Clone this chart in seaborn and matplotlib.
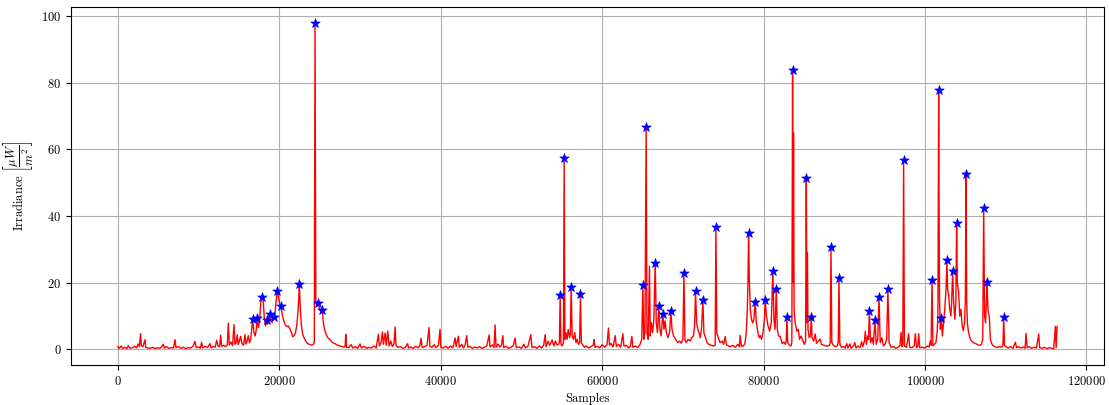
import matplotlib
matplotlib.use("Agg")
import matplotlib.pyplot as plt
import seaborn as sns
import pandas as pd

# Irradiance trace: sample index and value (uW/m^2)
samples = [
    0, 150, 400, 600, 900, 1100, 1300, 1500, 1800, 2100,
    2300, 2500, 2650, 2810, 2900, 3100, 3350, 3450, 3700, 4000,
    4300, 4600, 4900, 5200, 5450, 5620, 5750, 6000, 6300, 6600,
    6900, 7070, 7200, 7500, 7800, 8100, 8400, 8700, 9000, 9300,
    9550, 9700, 10000, 10200, 10370, 10500, 10800, 11100, 11400, 11550,
    11800, 12050, 12230, 12400, 12600, 12730, 12850, 13100, 13350, 13550,
    13680, 13800, 14000, 14200, 14380, 14500, 14650, 14790, 14900, 15050,
    15210, 15350, 15550, 15740, 15850, 16000, 16150, 16300, 16450, 16550,
    16700, 16850, 17000, 17150, 17270, 17400, 17550, 17700, 17850, 18000,
    18150, 18300, 18430, 18550, 18700, 18840, 18950, 19100, 19200, 19340,
    19450, 19600, 19750, 19900, 20050, 20210, 20350, 20500, 20700, 20900,
    21100, 21300, 21500, 21650, 21800, 22000, 22150, 22300, 22400, 22480,
    22560, 22700, 22850, 23000, 23200, 23400, 23600, 23800, 24000, 24200,
    24330, 24420, 24520, 24650, 24800, 24950, 25100, 25200, 25330, 25450,
    25600, 25800, 26000, 26300, 26600, 26900, 27200, 27500, 27800, 28000,
    28150, 28230, 28320, 28600, 28900, 29100, 29400, 29700, 30000, 30150,
    30500, 30800, 31100, 31400, 31700, 32000, 32270, 32400, 32600, 32770,
    32900, 33100, 33250, 33430, 33600, 33800, 34000, 34200, 34340, 34450,
    34700, 35000, 35300, 35600, 35900, 36000, 36300, 36600, 36900, 37200,
    37400, 37560, 37700, 38000, 38300, 38550, 38650, 38900, 39200, 39400,
    39700, 39910, 40000, 40300, 40600, 40900, 41200, 41500, 41780, 41900,
    42190, 42300, 42600, 42800, 43000, 43220, 43350, 43600, 43900, 44200,
    44500, 44800, 45100, 45400, 45700, 45990, 46100, 46400, 46600, 46730,
    46850, 47100, 47300, 47500, 47690, 47800, 48100, 48400, 48700, 49000,
    49210, 49350, 49700, 50000, 50300, 50500, 50800, 51160, 51300, 51600,
    51900, 52200, 52500, 52750, 52930, 53050, 53300, 53500, 53800, 54000,
    54200, 54400, 54600, 54700, 54790, 54900, 55050, 55200, 55290, 55380,
    55500, 55650, 55800, 55950, 56050, 56160, 56280, 56450, 56600, 56750,
    56900, 57050, 57200, 57310, 57420, 57600, 57800, 58000, 58300, 58600,
    58900, 59000, 59100, 59400, 59700, 60000, 60300, 60600, 60780, 60900,
    61100, 61350, 61610, 61750, 62000, 62300, 62560, 62700, 63000, 63300,
    63500, 63680, 63800, 64100, 64400, 64700, 64900, 65040, 65150, 65300,
    65450, 65550, 65700, 65860, 65950, 66100, 66250, 66400, 66570, 66700,
    66850, 67020, 67150, 67300, 67400, 67520, 67650, 67800, 67950, 68150,
    68350, 68510, 68650, 68850, 69100, 69350, 69600, 69800, 70000, 70130,
    70250, 70400, 70650, 70900, 71100, 71300, 71450, 71570, 71700, 71850,
    72000, 72150, 72300, 72480, 72600, 72800, 73000, 73200, 73500, 73800,
    74000, 74090, 74200, 74400, 74600, 74850, 75050, 75240, 75400, 75650,
    75900, 76200, 76500, 76800, 77000, 77100, 77250, 77500, 77700, 77850,
    77980, 78060, 78140, 78220, 78350, 78500, 78650, 78800, 78960, 79100,
    79300, 79450, 79580, 79750, 79950, 80100, 80200, 80350, 80550, 80750,
    80950, 81150, 81280, 81420, 81570, 81700, 81850, 82060, 82300, 82500,
    82700, 82800, 82890, 82990, 83200, 83400, 83500, 83590, 83650, 83710,
    83780, 83900, 84130, 84300, 84450, 84650, 84850, 85050, 85200, 85290,
    85370, 85430, 85500, 85650, 85800, 85910, 86000, 86200, 86400, 86550,
    86800, 87000, 87150, 87450, 87700, 87950, 88150, 88250, 88350, 88450,
    88650, 88900, 89100, 89250, 89340, 89450, 89650, 89900, 90100, 90300,
    90450, 90700, 90850, 91100, 91300, 91450, 91700, 91950, 92150, 92300,
    92500, 92600, 92750, 92900, 93000, 93100, 93250, 93450, 93600, 93800,
    93950, 94150, 94300, 94450, 94650, 94850, 95050, 95250, 95400, 95550,
    95800, 96100, 96400, 96700, 96900, 97030, 97150, 97250, 97350, 97450,
    97700, 97970, 98100, 98400, 98650, 98800, 98950, 99100, 99210, 99350,
    99700, 100000, 100300, 100500, 100650, 100750, 100870, 100980, 101150, 101350,
    101500, 101600, 101690, 101740, 101800, 101900, 102020, 102150, 102300, 102450,
    102600, 102720, 102800, 102930, 103050, 103200, 103300, 103420, 103550, 103700,
    103820, 103920, 104000, 104170, 104300, 104450, 104600, 104750, 104900, 105000,
    105080, 105160, 105250, 105400, 105550, 105750, 106000, 106200, 106440, 106650,
    106850, 107000, 107150, 107270, 107380, 107500, 107600, 107680, 107800, 107970,
    108100, 108300, 108500, 108700, 108950, 109200, 109450, 109650, 109750, 109850,
    110000, 110300, 110600, 110900, 111190, 111350, 111600, 111900, 112200, 112400,
    112520, 112650, 112900, 113200, 113500, 113800, 114090, 114200, 114500, 114800,
    115100, 115400, 115700, 115950, 116150, 116250, 116360,
]

irradiance = [
    0.8, 0.2, 1.0, 0.3, 0.6, 0.2, 1.1, 0.3, 0.5, 0.9,
    0.4, 1.6, 0.8, 4.7, 1.0, 0.8, 2.9, 0.6, 0.4, 0.3,
    0.6, 0.2, 0.5, 0.3, 0.9, 1.5, 0.4, 0.8, 0.3, 0.5,
    0.4, 2.9, 0.5, 0.8, 0.3, 0.6, 0.2, 0.5, 0.4, 0.9,
    2.4, 0.5, 0.7, 0.3, 2.1, 0.4, 0.9, 0.5, 1.7, 0.4,
    0.9, 0.6, 2.7, 1.0, 0.8, 4.2, 0.9, 1.2, 0.8, 1.4,
    7.9, 1.3, 2.2, 1.1, 7.4, 1.5, 2.0, 4.4, 1.4, 2.5,
    3.9, 1.8, 1.2, 4.4, 1.6, 2.4, 4.1, 2.0, 3.0, 5.5,
    9.0, 5.0, 4.0, 6.0, 9.5, 6.5, 8.5, 14.0, 15.6, 14.5,
    9.0, 7.0, 8.8, 7.5, 9.0, 10.7, 8.5, 8.0, 9.0, 9.7,
    10.5, 14.5, 17.5, 15.5, 13.5, 12.9, 10.5, 9.0, 7.5, 6.8,
    7.0, 6.2, 5.0, 3.8, 4.0, 5.0, 7.0, 11.0, 15.0, 19.7,
    14.0, 8.0, 5.0, 3.8, 2.8, 2.0, 1.6, 1.4, 1.3, 1.5,
    2.0, 97.9, 14.0, 13.0, 13.9, 12.5, 11.5, 12.0, 11.9, 8.0,
    6.0, 4.5, 3.5, 2.8, 2.0, 1.7, 1.2, 1.0, 0.8, 0.6,
    0.9, 4.5, 0.6, 0.5, 1.4, 0.4, 0.8, 0.3, 1.6, 0.4,
    0.9, 0.3, 0.6, 0.4, 1.0, 0.4, 4.5, 1.0, 2.0, 5.2,
    1.5, 4.9, 1.2, 5.5, 1.0, 2.5, 0.8, 1.6, 6.7, 1.2,
    0.6, 0.8, 0.3, 0.6, 1.7, 0.4, 0.7, 0.3, 0.9, 0.5,
    1.0, 3.3, 0.5, 0.8, 1.2, 6.5, 0.8, 0.6, 1.4, 0.5,
    1.2, 6.0, 0.6, 0.4, 0.9, 0.3, 1.0, 0.4, 3.4, 0.8,
    3.9, 0.6, 1.5, 0.4, 1.2, 4.1, 0.6, 0.9, 0.3, 0.7,
    0.4, 0.8, 0.3, 0.6, 1.0, 4.3, 0.7, 1.3, 0.5, 7.3,
    0.6, 1.6, 0.7, 1.0, 4.1, 0.5, 0.9, 0.3, 0.6, 1.2,
    3.4, 0.5, 0.7, 0.3, 1.5, 0.4, 0.9, 4.4, 0.5, 0.8,
    0.3, 1.0, 0.4, 1.2, 4.4, 0.8, 2.4, 1.2, 2.8, 1.0,
    2.5, 1.3, 1.5, 2.0, 16.2, 1.5, 1.0, 2.0, 57.3, 3.0,
    5.0, 3.0, 6.0, 3.5, 4.5, 18.8, 4.0, 3.0, 5.0, 2.0,
    3.0, 1.5, 2.0, 16.5, 2.0, 1.2, 0.6, 1.0, 0.4, 0.8,
    1.3, 2.9, 0.6, 0.9, 0.4, 1.4, 0.6, 1.4, 6.4, 1.2,
    1.8, 0.7, 4.1, 0.9, 1.5, 0.6, 4.7, 0.9, 1.2, 0.4,
    1.0, 3.9, 0.6, 1.0, 0.5, 1.5, 3.0, 19.2, 3.0, 5.0,
    66.6, 5.0, 3.0, 24.9, 4.0, 8.0, 5.0, 9.0, 26.0, 8.0,
    5.0, 13.1, 6.0, 4.0, 7.0, 10.7, 6.0, 8.5, 5.0, 3.5,
    5.0, 11.4, 6.0, 4.0, 3.0, 2.0, 2.5, 1.8, 3.0, 22.8,
    3.0, 2.0, 3.0, 2.5, 3.5, 4.0, 7.0, 17.4, 8.0, 6.0,
    5.0, 3.5, 6.0, 14.7, 5.0, 3.5, 2.0, 1.5, 1.2, 1.0,
    1.2, 36.7, 5.0, 3.4, 2.0, 2.5, 1.5, 3.8, 1.3, 1.0,
    0.8, 1.2, 0.6, 1.5, 0.8, 4.2, 0.9, 1.0, 1.8, 5.0,
    12.0, 20.0, 35.0, 22.0, 12.0, 9.0, 7.9, 9.0, 14.3, 8.0,
    5.0, 3.5, 4.1, 3.0, 5.5, 9.0, 14.8, 10.0, 7.0, 5.5,
    8.0, 23.5, 9.0, 6.0, 18.2, 6.0, 4.0, 3.8, 1.7, 2.2,
    1.5, 2.5, 9.6, 2.0, 1.2, 1.0, 2.0, 83.8, 20.0, 64.9,
    12.0, 8.0, 5.4, 6.0, 3.0, 4.0, 2.7, 1.5, 2.5, 51.4,
    8.0, 28.9, 6.0, 3.5, 4.0, 9.8, 3.5, 2.5, 4.6, 1.8,
    2.5, 3.1, 1.5, 1.2, 1.0, 1.0, 1.2, 2.0, 30.6, 2.0,
    1.2, 0.8, 1.0, 2.0, 21.4, 1.5, 0.6, 0.8, 0.4, 1.7,
    0.4, 1.6, 0.3, 0.9, 2.0, 0.4, 1.0, 0.5, 2.3, 0.8,
    2.5, 5.4, 1.5, 4.0, 3.0, 11.4, 2.0, 3.5, 1.5, 8.8,
    1.5, 3.0, 15.8, 2.0, 3.5, 1.0, 1.5, 3.0, 18.0, 2.0,
    0.6, 0.8, 0.3, 0.7, 1.2, 5.1, 0.8, 1.5, 56.9, 1.0,
    0.6, 4.7, 0.6, 0.5, 1.0, 4.7, 0.5, 0.8, 4.7, 0.5,
    0.6, 0.4, 1.0, 0.7, 2.5, 1.2, 20.9, 1.0, 1.5, 2.0,
    5.0, 10.0, 77.9, 44.7, 15.0, 6.0, 9.5, 4.0, 8.0, 12.0,
    18.0, 26.8, 18.0, 16.3, 12.3, 10.0, 14.0, 23.4, 14.0, 9.0,
    14.0, 38.0, 20.0, 17.1, 10.0, 12.0, 7.0, 5.6, 8.0, 15.0,
    52.7, 15.0, 7.9, 5.0, 3.5, 2.5, 2.0, 1.8, 1.5, 1.3,
    1.2, 1.5, 3.0, 42.4, 10.0, 8.0, 14.0, 20.2, 12.0, 9.5,
    3.0, 1.5, 1.0, 0.8, 0.5, 0.8, 0.6, 1.0, 9.8, 1.2,
    0.8, 0.4, 0.8, 0.3, 2.1, 0.5, 0.8, 0.4, 0.7, 0.3,
    4.8, 0.5, 0.8, 0.3, 0.6, 0.4, 4.6, 0.5, 0.3, 0.6,
    0.2, 0.5, 0.3, 0.2, 6.9, 0.5, 6.8,
]

# Detected peaks (sample indices)
peak_samples = [
    16700, 17270, 17850, 18430, 18840, 19340, 19750, 20210, 22480, 24420,
    24800, 25330, 54790, 55290, 56160, 57310, 65040, 65450, 66570, 67020,
    67520, 68510, 70130, 71570, 72480, 74090, 78140, 78960, 80200, 81150,
    81570, 82890, 83590, 85290, 85910, 88350, 89340, 93100, 93800, 94300,
    95400, 97350, 100870, 101690, 102020, 102720, 103420, 103920, 105080, 107270,
    107680, 109750,
]

assert len(samples) == len(irradiance)

trace = pd.DataFrame({"sample": samples, "irradiance": irradiance})
lookup = dict(zip(samples, irradiance))
peaks = pd.DataFrame({"sample": peak_samples,
                      "irradiance": [lookup[s] for s in peak_samples]})

plt.rcParams["font.family"] = "serif"
plt.rcParams["font.serif"] = ["cmr10", "DejaVu Serif"]
plt.rcParams["mathtext.fontset"] = "cm"
plt.rcParams["axes.formatter.use_mathtext"] = True
plt.rcParams["font.size"] = 9

fig, ax = plt.subplots(figsize=(11.09, 4.05), dpi=100)
fig.subplots_adjust(left=0.064, right=0.9955, top=0.983, bottom=0.099)

sns.lineplot(data=trace, x="sample", y="irradiance", ax=ax, color="red",
             linewidth=1.0, sort=False, estimator=None, zorder=2)
sns.scatterplot(data=peaks, x="sample", y="irradiance", ax=ax, marker="*",
                s=50, color="blue", edgecolor="blue", linewidth=0.5, zorder=3)

ax.grid(True, color="#b0b0b0", linewidth=0.8)
ax.set_axisbelow(True)
ax.set_xticks([0, 20000, 40000, 60000, 80000, 100000, 120000])
ax.set_yticks([0, 20, 40, 60, 80, 100])
ax.set_xlabel("Samples")
ax.set_ylabel(r"Irradiance $\left[\dfrac{\mu W}{m^2}\right]$")

fig.savefig("out.png", dpi=100)
